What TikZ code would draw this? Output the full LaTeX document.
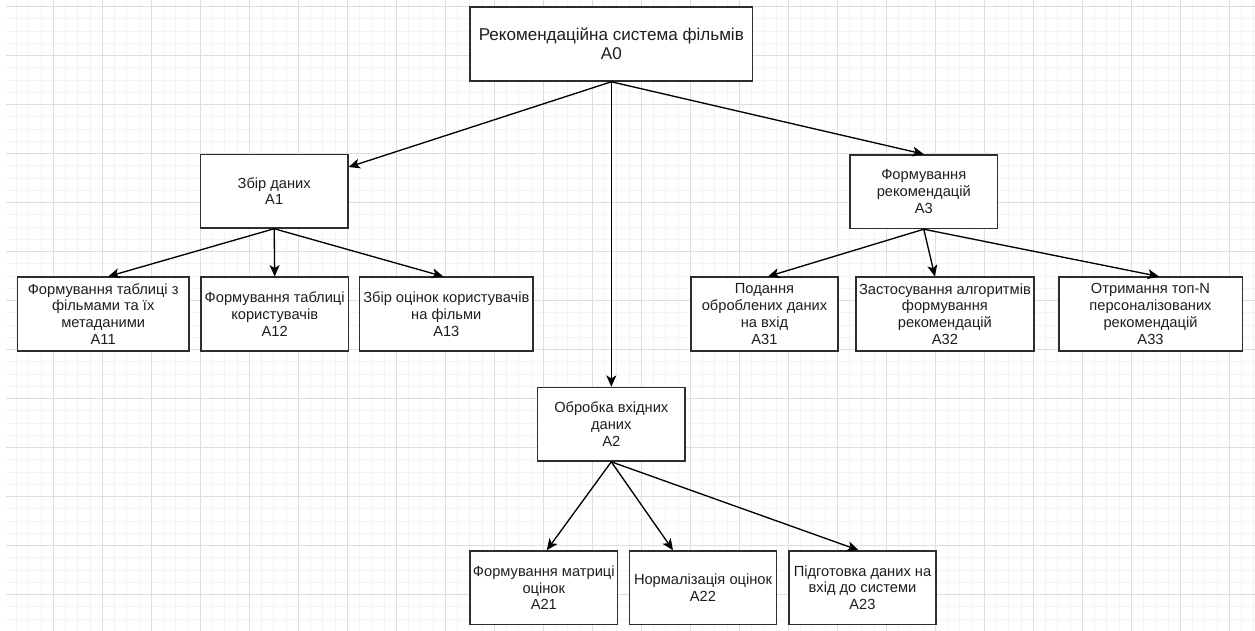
\documentclass[tikz,border=0pt]{standalone}
\usepackage{fontspec}
\setmainfont{Liberation Sans}
\usetikzlibrary{arrows.meta}
\definecolor{gridmajor}{RGB}{222,222,222}
\definecolor{gridminor}{RGB}{244,244,244}
\definecolor{boxline}{RGB}{45,45,45}
\definecolor{txt}{RGB}{30,30,30}
\tikzset{
  minorline/.style={draw=gridminor, line width=0.75pt},
  majorline/.style={draw=gridmajor, line width=0.75pt},
  blockbox/.style={draw=boxline, line width=1.2pt, fill=white, rectangle, inner sep=0pt,
     align=center, text=txt, minimum width=110.5pt, minimum height=55.1pt,
     font=\fontsize{11pt}{12.6pt}\selectfont},
  topbox/.style={blockbox, minimum width=212pt, minimum height=55.5pt,
     font=\fontsize{12.8pt}{14.4pt}\selectfont},
  link/.style={draw=black, line width=1pt, -{Stealth[length=8.5pt, width=7.5pt, inset=2.2pt]}}
}
\begin{document}
\begin{tikzpicture}[x=0.75pt, y=-0.75pt]
\useasboundingbox (0,0) rectangle (1255,631);
\fill[white] (0,0) rectangle (1255,631);
% grid
\foreach \k in {0,...,101} \draw[minorline] (16.55+12.25*\k,0) -- (16.55+12.25*\k,631);
\foreach \k in {0,...,50} \draw[minorline] (6,6.7+12.25*\k) -- (1255,6.7+12.25*\k);
\foreach \k in {0,...,24} \draw[majorline] (53.3+49*\k,0) -- (53.3+49*\k,631);
\foreach \k in {0,...,12} \draw[majorline] (6,6.7+49*\k) -- (1255,6.7+49*\k);
% nodes
\node[topbox] (A0) at (611.3,44) {Рекомендаційна система фільмів\\A0};
\node[blockbox] (A1) at (274.2,191.2) {Збір даних\\A1};
\node[blockbox] (A3) at (923.8,191.7) {Формування\\рекомендацій\\A3};
\node[blockbox] (A2) at (611.3,424.3) {Обробка вхідних\\даних\\A2};
\node[blockbox, minimum width=128.8pt] (A11) at (103.2,314) {Формування таблиці з\\фільмами та їх\\метаданими\\A11};
\node[blockbox] (A12) at (274.7,314) {Формування таблиці\\користувачів\\A12};
\node[blockbox, minimum width=130pt] (A13) at (446.3,314) {Збір оцінок користувачів\\на фільми\\A13};
\node[blockbox] (A31) at (764.5,314) {Подання\\оброблених даних\\на вхід\\A31};
\node[blockbox, minimum width=133.7pt] (A32) at (944.9,314) {Застосування алгоритмів\\формування\\рекомендацій\\A32};
\node[blockbox, minimum width=137.7pt] (A33) at (1150.5,314) {Отримання топ-N\\персоналізованих\\рекомендацій\\A33};
\node[blockbox] (A21) at (543.8,587.7) {Формування матриці\\оцінок\\A21};
\node[blockbox] (A22) at (703,587.7) {Нормалізація оцінок\\A22};
\node[blockbox] (A23) at (862.5,587.7) {Підготовка даних на\\вхід до системи\\A23};
% connectors
\draw[link] (A0.south) -- (A1);
\draw[link] (A0.south) -- (A2.north);
\draw[link] (A0.south) -- (A3.north);
\draw[link] (A1.south) -- ([xshift=3.75pt]A11.north);
\draw[link] (A1.south) -- (A12.north);
\draw[link] (A1.south) -- ([xshift=-2.25pt]A13.north);
\draw[link] (A3.south) -- ([xshift=2.6pt]A31.north);
\draw[link] (A3.south) -- ([xshift=-7.5pt]A32.north);
\draw[link] (A3.south) -- ([xshift=6.4pt]A33.north);
\draw[link] (A2.south) -- ([xshift=2.25pt]A21.north);
\draw[link] (A2.south) -- ([xshift=-22.5pt]A22.north);
\draw[link] (A2.south) -- ([xshift=-3pt]A23.north);
\end{tikzpicture}
\end{document}
